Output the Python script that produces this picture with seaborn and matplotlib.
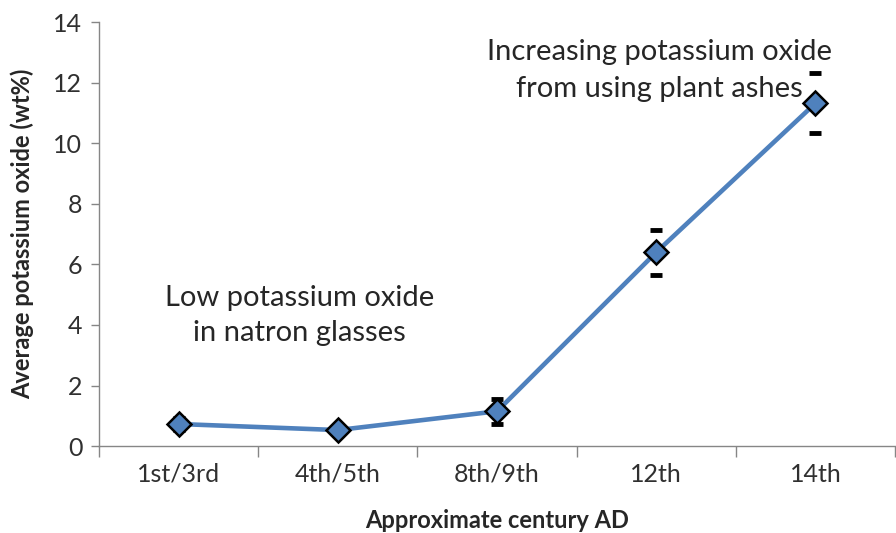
import numpy as np
import pandas as pd
import matplotlib
matplotlib.use('Agg')
import matplotlib.pyplot as plt
import seaborn as sns

# dati
centuries = ['1st/3rd', '4th/5th', '8th/9th', '12th', '14th']
k2o_mean = [0.73, 0.53, 1.15, 6.4, 11.32]
k2o_err = [0.2, 0.15, 0.42, 0.75, 1.0]

df = pd.DataFrame({'Century': centuries, 'K2O': k2o_mean, 'Err': k2o_err})
df['pos'] = np.arange(len(df))

sns.set_style('white')
plt.rcParams['font.family'] = ['Lato', 'DejaVu Sans']

blue = '#4F81BD'
grey = '#868686'

fig = plt.figure(figsize=(8.96, 5.33), dpi=100)
ax = fig.add_axes([0.1105, 0.163, 0.8885, 0.7957])

# barre di errore (solo i cappucci)
ax.errorbar(df['pos'], df['K2O'], yerr=df['Err'], fmt='none', ecolor='black',
            elinewidth=0, capsize=4, capthick=3.5, zorder=2)

sns.lineplot(data=df, x='pos', y='K2O', color=blue, linewidth=3.3, marker='D',
             markersize=12, markerfacecolor=blue, markeredgecolor='black',
             markeredgewidth=1.8, ax=ax, zorder=3)

ax.set_xlim(-0.5, 4.5)
ax.set_ylim(0, 14)
ax.set_yticks(range(0, 15, 2))
ax.set_xticks(df['pos'])
ax.set_xticklabels(centuries)
ax.set_xticks(np.arange(-0.5, 4.6, 1), minor=True)
ax.tick_params(axis='x', which='major', length=0, labelsize=18, pad=12, colors='#303030')
ax.tick_params(axis='x', which='minor', length=8, width=1, color=grey, direction='out', bottom=True)
ax.tick_params(axis='y', length=6, width=1, color=grey, direction='out', left=True,
               labelsize=18, labelcolor='#303030', pad=6)

for s in ['top', 'right']:
    ax.spines[s].set_visible(False)
for s in ['left', 'bottom']:
    ax.spines[s].set_color(grey)
    ax.spines[s].set_linewidth(1)

ax.set_xlabel('Approximate century AD', fontsize=17, fontweight='bold', labelpad=17)
ax.set_ylabel('Average potassium oxide (wt%)', fontsize=17, fontweight='bold', labelpad=14)

ax.text(3.02, 12.4, 'Increasing potassium oxide\nfrom using plant ashes', ha='center',
        va='center', fontsize=21, linespacing=1.5)
ax.text(0.76, 4.32, 'Low potassium oxide\nin natron glasses', ha='center',
        va='center', fontsize=21, linespacing=1.45)

fig.savefig('out.png', dpi=100)
